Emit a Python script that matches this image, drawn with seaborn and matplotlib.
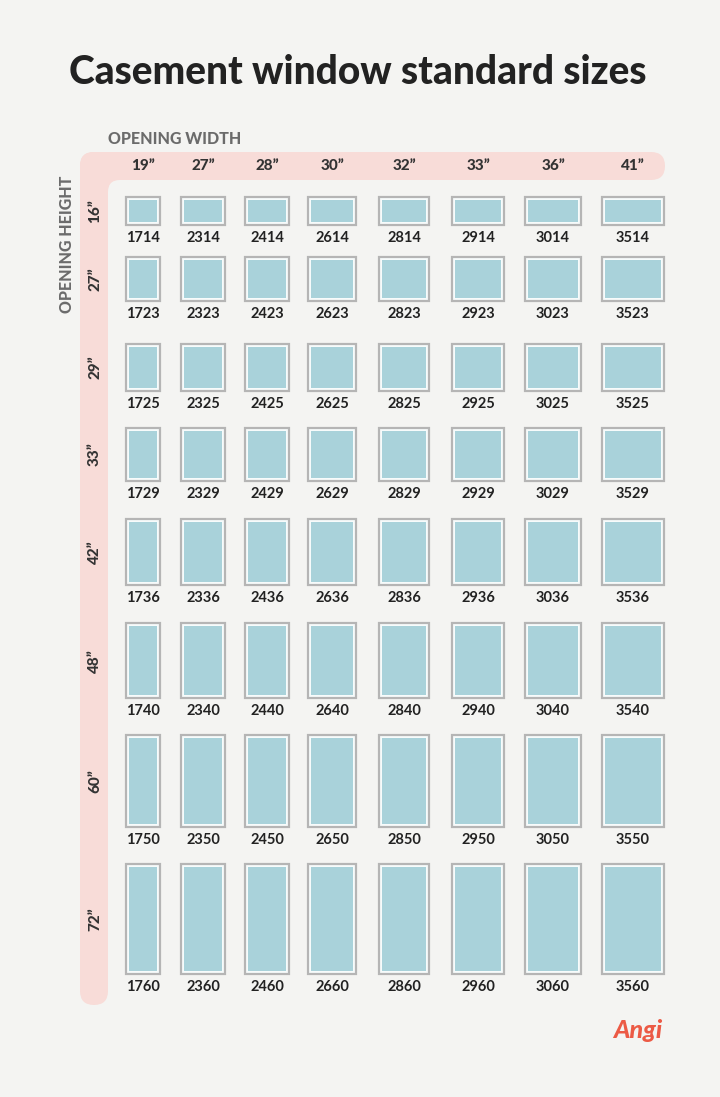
import matplotlib
matplotlib.use("Agg")
import matplotlib.pyplot as plt
from matplotlib.patches import FancyBboxPatch, Rectangle
import seaborn as sns

sns.set_theme(style="white")
plt.rcParams['font.family'] = ['Lato', 'DejaVu Sans']

widths = [19, 27, 28, 30, 32, 33, 36, 41]
heights = [16, 27, 29, 33, 42, 48, 60, 72]
width_labels = ['19”', '27”', '28”', '30”', '32”', '33”', '36”', '41”']
height_labels = ['16”', '27”', '29”', '33”', '42”', '48”', '60”', '72”']
codes = [
    ['1714', '2314', '2414', '2614', '2814', '2914', '3014', '3514'],
    ['1723', '2323', '2423', '2623', '2823', '2923', '3023', '3523'],
    ['1725', '2325', '2425', '2625', '2825', '2925', '3025', '3525'],
    ['1729', '2329', '2429', '2629', '2829', '2929', '3029', '3529'],
    ['1736', '2336', '2436', '2636', '2836', '2936', '3036', '3536'],
    ['1740', '2340', '2440', '2640', '2840', '2940', '3040', '3540'],
    ['1750', '2350', '2450', '2650', '2850', '2950', '3050', '3550'],
    ['1760', '2360', '2460', '2660', '2860', '2960', '3060', '3560'],
]

# layout (pixel space)
col_x = [143, 203, 267, 332, 404, 478, 553, 633]
lab_y = [238, 314, 404, 494, 598, 711, 840, 987]

BG = '#f4f4f2'
PINK = '#f8dcd8'
fig = plt.figure(figsize=(7.2, 10.97), dpi=100, facecolor=BG)
ax = fig.add_axes([0, 0, 1, 1])
ax.set_xlim(0, 720)
ax.set_ylim(1097, 0)
ax.axis('off')
ax.set_facecolor(BG)

ax.text(358, 72, 'Casement window standard sizes', ha='center', va='center',
        fontsize=28, fontweight='black', color='#222222')

# pink L band
ax.add_patch(FancyBboxPatch((80, 152), 585, 28, boxstyle='round,pad=0,rounding_size=14', fc=PINK, ec='none'))
ax.add_patch(FancyBboxPatch((80, 152), 28, 853, boxstyle='round,pad=0,rounding_size=14', fc=PINK, ec='none'))
ax.add_patch(Rectangle((94, 166), 30, 30, fc=PINK, ec='none'))
ax.add_patch(FancyBboxPatch((108, 180), 40, 40, boxstyle='round,pad=0,rounding_size=12', fc=BG, ec='none'))

ax.text(108, 139, 'OPENING WIDTH', ha='left', va='center', fontsize=11.5, fontweight='black', color='#6b6b6b')
ax.text(67, 244, 'OPENING HEIGHT', ha='center', va='center', rotation=90, fontsize=11.5, fontweight='black', color='#6b6b6b')

for x, t in zip(col_x, width_labels):
    ax.text(x, 166, t, ha='center', va='center', fontsize=11, fontweight='black', color='#333333')

for j, h in enumerate(heights):
    hp = 1.46 * h + 4.6
    bottom = lab_y[j] - 13
    ax.text(95, bottom - hp / 2, height_labels[j], ha='center', va='center', rotation=90,
            fontsize=11, fontweight='black', color='#333333')
    for i, w in enumerate(widths):
        wp = 1.32 * w + 8
        x0 = col_x[i] - wp / 2
        y0 = bottom - hp
        ax.add_patch(Rectangle((x0, y0), wp, hp, fc='#f7fbfb', ec='#b5b5b5', lw=1.6))
        ax.add_patch(Rectangle((x0 + 3, y0 + 3), wp - 6, hp - 6, fc='#a9d2da', ec='none'))
        ax.text(col_x[i], lab_y[j], codes[j][i], ha='center', va='center', fontsize=10.5,
                fontweight='bold', color='#222222')

ax.text(638, 1031, 'Angi', ha='center', va='center', fontsize=18, fontweight='black',
        color='#ec5a45', style='italic')

fig.savefig('out.png', dpi=100, facecolor=BG)
